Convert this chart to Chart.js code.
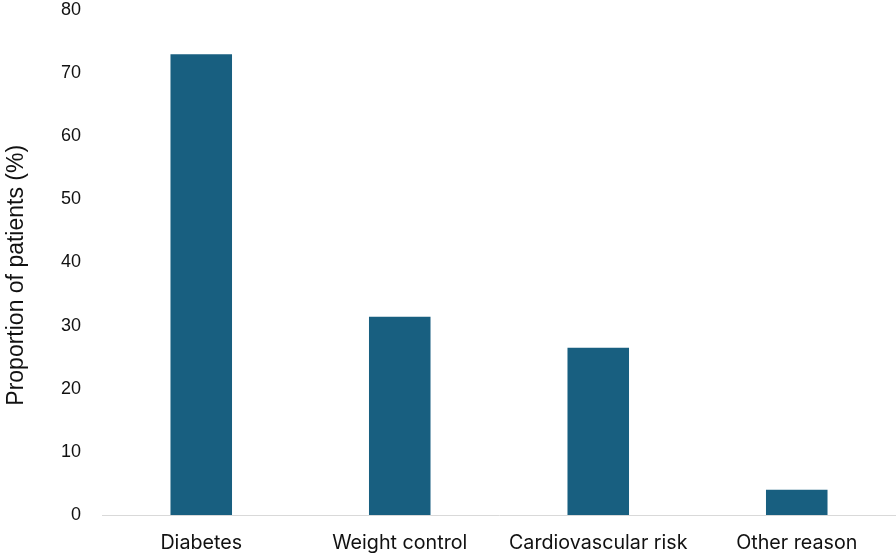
<!DOCTYPE html>
<html>
<head>
<meta charset="utf-8">
<script src="https://cdn.jsdelivr.net/npm/chart.js@4.4.0/dist/chart.umd.min.js"></script>
<style>
  html, body { margin: 0; padding: 0; background: #ffffff; }
  #wrap { width: 896px; height: 554px; position: relative; }
</style>
</head>
<body>
<div id="wrap"><canvas id="reasonChart"></canvas></div>
<script>
// Chart data
const categories = ['Diabetes', 'Weight control', 'Cardiovascular risk', 'Other reason'];
const proportions = [73, 31.4, 26.5, 4];
const yTicks = [0, 10, 20, 30, 40, 50, 60, 70, 80];

const barColor = '#185f80';

const ctx = document.getElementById('reasonChart');
new Chart(ctx.getContext('2d'), {
    type: 'bar',
    data: {
        labels: categories,
        datasets: [{
            label: 'Proportion of patients (%)',
            data: proportions,
            backgroundColor: barColor,
            borderWidth: 0,
            categoryPercentage: 1,
            barPercentage: 0.31
        }]
    },
    options: {
        responsive: true,
        maintainAspectRatio: false,
        animation: false,
        layout: { padding: { top: 10, right: 0, left: 0, bottom: 0 } },
        plugins: {
            legend: { display: false },
            tooltip: { enabled: false }
        },
        scales: {
            x: {
                grid: { display: false, drawTicks: false },
                border: { display: true, color: '#d9d9d9', width: 1 },
                ticks: {
                    color: '#111111',
                    padding: 16,
                    maxRotation: 0,
                    font: { family: 'Inter, "Open Sans", sans-serif', size: 19.7 }
                },
                afterFit: function(scale) { scale.height = 39; }
            },
            y: {
                min: 0,
                max: 80,
                afterBuildTicks: function(scale) {
                    scale.ticks = yTicks.map(v => ({ value: v }));
                },
                grid: { display: false, drawTicks: false },
                border: { display: false },
                ticks: {
                    color: '#111111',
                    padding: 21,
                    font: { family: '"Liberation Sans", Arial, sans-serif', size: 18 }
                },
                title: {
                    display: true,
                    // trailing spaces nudge the centred title a bit lower
                    text: 'Proportion of patients (%)\u00a0\u00a0\u00a0\u00a0',
                    color: '#111111',
                    padding: { top: 3, bottom: 0 },
                    font: { family: '"Liberation Sans", Arial, sans-serif', size: 23 }
                },
                afterFit: function(scale) {
                    scale.width = 102;
                    scale.paddingTop = 0;
                    scale.paddingBottom = 0;
                }
            }
        }
    }
});
</script>
</body>
</html>
